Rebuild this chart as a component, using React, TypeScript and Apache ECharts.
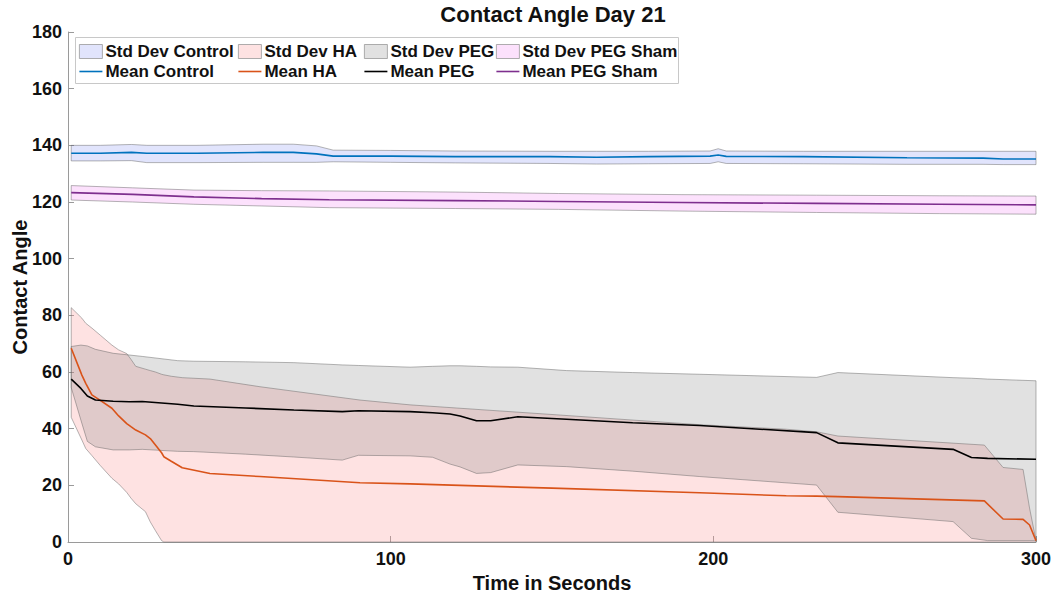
import React, { useEffect, useRef } from "react";
import * as echarts from "echarts";

// ---------- data ----------
const xTicks = [0, 100, 200, 300];
const yTicks = [0, 20, 40, 60, 80, 100, 120, 140, 160, 180];

const tControl = [1, 10, 19.7, 24.4, 40, 60.5, 69.8, 77, 82.2, 100, 120, 149.4, 163.8, 180, 199, 201.5, 204, 228, 260, 283.6, 289.8, 300];
const meanControl = [137.2, 137.2, 137.5, 137.2, 137.2, 137.5, 137.5, 137.0, 136.2, 136.2, 136.0, 136.0, 135.8, 136.0, 136.2, 136.6, 136.1, 136.0, 135.6, 135.5, 135.2, 135.2];
const hiControl = [140.0, 140.0, 140.3, 140.0, 140.0, 140.4, 140.4, 139.8, 138.3, 138.2, 138.0, 137.9, 137.9, 137.9, 138.0, 138.8, 138.0, 137.9, 137.9, 137.9, 137.9, 137.9];
const loControl = [134.5, 134.5, 134.6, 133.9, 133.9, 134.0, 134.0, 134.0, 134.2, 134.0, 133.8, 133.6, 133.4, 133.5, 133.6, 134.2, 133.6, 133.5, 133.3, 133.3, 133.2, 133.2];

const tHA = [1, 4.3, 5.5, 7.4, 10, 13.6, 15.7, 18.2, 19.5, 21, 24, 25.5, 27.1, 29, 29.7, 32, 35.4, 44, 59.5, 90.5, 106, 150, 195.8, 222.6, 232, 238.6, 284, 289.8, 296, 298, 300];
const meanHA = [68.4, 58.9, 56.0, 51.9, 50.0, 47.2, 44.5, 41.8, 40.7, 39.5, 37.8, 36.5, 34.2, 31.5, 30.1, 28.5, 26.2, 24.2, 23.1, 20.9, 20.5, 19.0, 17.4, 16.3, 16.2, 16.0, 14.5, 8.1, 8.0, 6.0, 0.5];
const hiHA = [82.7, 79.0, 77.2, 75.5, 73.0, 69.5, 67.8, 66.5, 64.5, 62.0, 61.0, 60.5, 60.0, 59.2, 59.0, 58.5, 58.0, 57.5, 54.8, 50.1, 48.4, 45.0, 41.4, 39.8, 38.9, 37.4, 34.2, 26.3, 25.6, 12.0, 0.5];
const loHA = [44.0, 36.0, 33.0, 30.5, 27.0, 22.5, 20.5, 17.5, 15.5, 13.5, 10.7, 7.1, 4.0, 0.5, 0, 0, 0, 0, 0, 0, 0, 0, 0, 0, 0, 0, 0, 0, 0, 0, 0];

const tPEG = [1, 4, 6, 8.5, 14, 19, 23, 34, 39, 55, 70, 85, 90, 106, 113, 118.4, 121.5, 126.6, 131, 139.4, 154.5, 175, 195.8, 232, 238.6, 274.3, 280, 285, 300];
const meanPEG = [57.5, 54.2, 51.5, 50.1, 49.7, 49.5, 49.6, 48.6, 48.0, 47.3, 46.6, 46.0, 46.3, 46.0, 45.6, 45.2, 44.5, 42.8, 42.8, 44.2, 43.3, 42.1, 41.1, 38.6, 35.0, 32.7, 29.8, 29.5, 29.2];
const loPEG = [54.5, 43.0, 35.5, 33.6, 32.5, 32.5, 32.7, 32.0, 31.9, 31.0, 30.0, 28.9, 30.6, 30.4, 29.9, 27.5, 26.5, 24.2, 24.5, 27.2, 26.6, 25.0, 23.1, 20.1, 10.5, 7.2, 1.3, 0.5, 0.5];
const hiPEG = [69.0, 69.5, 69.2, 68.0, 66.6, 66.0, 65.5, 64.0, 63.8, 63.6, 63.3, 62.5, 62.3, 61.7, 62.0, 62.2, 62.2, 62.0, 61.8, 61.7, 60.5, 59.8, 59.2, 58.1, 59.8, 58.0, 57.8, 57.5, 56.9];

const tSham = [1, 20, 39, 60, 81, 120, 152, 190, 232, 270, 300];
const meanSham = [123.3, 122.7, 121.8, 121.2, 120.8, 120.5, 120.2, 119.8, 119.5, 119.2, 119.0];
const hiSham = [125.8, 125.0, 124.2, 124.0, 123.9, 123.5, 123.0, 122.6, 122.4, 122.2, 122.1];
const loSham = [120.7, 120.0, 119.2, 118.6, 118.0, 117.7, 117.4, 116.8, 116.3, 115.9, 115.7];

// ---------- styles ----------
const FONT = "'Liberation Sans', Arial, Helvetica, sans-serif";
const EDGE = "rgba(100,100,100,0.6)";
const AXIS = "#9a9a9a";

const fillControl = "rgba(120,130,240,0.22)";
const fillHA = "rgba(250,150,150,0.28)";
const fillPEG = "rgba(120,120,120,0.22)";
const fillSham = "rgba(240,120,240,0.22)";

const colControl = "#0072BD";
const colHA = "#D95319";
const colPEG = "#000000";
const colSham = "#7E2F8E";

const LINE_ICON = "path://M0,0L23,0L23,1.6L0,1.6Z";

function band(name: string, t: number[], lo: number[], hi: number[], fill: string) {
  return {
    type: "custom",
    name,
    coordinateSystem: "cartesian2d",
    silent: true,
    z: 1,
    itemStyle: { color: fill, borderColor: EDGE, borderWidth: 0.8 },
    data: t.map((x, i) => [x, lo[i], hi[i]]),
    encode: { x: 0, y: [1, 2] },
    renderItem: (params: any, api: any) => {
      if (params.dataIndex !== 0) return null;
      const pts: number[][] = [];
      for (let i = 0; i < t.length; i++) pts.push(api.coord([t[i], hi[i]]));
      for (let i = t.length - 1; i >= 0; i--) pts.push(api.coord([t[i], lo[i]]));
      return {
        type: "polygon",
        shape: { points: pts },
        style: { fill, stroke: EDGE, lineWidth: 0.8 },
      };
    },
  };
}

function meanLine(name: string, t: number[], v: number[], color: string) {
  return {
    type: "line",
    name,
    z: 3,
    silent: true,
    symbol: "none",
    showSymbol: false,
    data: t.map((x, i) => [x, v[i]]),
    lineStyle: { color, width: 1.6 },
    itemStyle: { color },
  };
}

function legendCol(left: number, bandName: string, lineName: string, fill: string, color: string) {
  return {
    orient: "vertical",
    left,
    top: 43,
    padding: 0,
    itemWidth: 23,
    itemHeight: 14,
    itemGap: 3,
    selectedMode: false,
    symbolKeepAspect: true,
    textStyle: { fontFamily: FONT, fontSize: 17, fontWeight: "bold", color: "#111", padding: [0, 0, 0, -2] },
    data: [
      { name: bandName, icon: "rect", itemStyle: { color: fill, borderColor: "#999", borderWidth: 0.8 } },
      { name: lineName, icon: LINE_ICON, itemStyle: { color, borderWidth: 0 } },
    ],
  };
}

export default function App() {
  const ref = useRef<HTMLDivElement>(null);
  useEffect(() => {
    if (!ref.current) return;
    const chart = echarts.init(ref.current, undefined, { renderer: "svg" });
    chart.setOption({
      animation: false,
      backgroundColor: "#ffffff",
      grid: { left: 68, right: 25, top: 32, bottom: 65, containLabel: false, outerBoundsMode: "none" },
      graphic: [
        {
          type: "text",
          x: 553,
          y: 14,
          style: {
            text: "Contact Angle Day 21",
            font: `bold 22px ${FONT}`,
            fill: "#111",
            textAlign: "center",
            textVerticalAlign: "middle",
          },
        },
        {
          type: "rect",
          z: 0,
          shape: { x: 75.5, y: 37.5, width: 603, height: 46 },
          style: { fill: "#ffffff", stroke: "#c8c8c8", lineWidth: 1 },
        },
      ],
      legend: [
        legendCol(79, "Std Dev Control", "Mean Control", fillControl, colControl),
        legendCol(238, "Std Dev HA", "Mean HA", fillHA, colHA),
        legendCol(364, "Std Dev PEG", "Mean PEG", fillPEG, colPEG),
        legendCol(496, "Std Dev PEG Sham", "Mean PEG Sham", fillSham, colSham),
      ],
      xAxis: {
        type: "value",
        min: xTicks[0],
        max: xTicks[xTicks.length - 1],
        interval: 100,
        name: "Time in Seconds",
        nameLocation: "middle",
        nameGap: 31,
        nameMoveOverlap: false,
        nameTextStyle: { fontFamily: FONT, fontSize: 20, fontWeight: "bold", color: "#111" },
        axisLine: { show: true, lineStyle: { color: AXIS, width: 1 } },
        axisTick: { show: true, inside: true, length: 6, lineStyle: { color: AXIS } },
        axisLabel: { fontFamily: FONT, fontSize: 18, fontWeight: "bold", color: "#111", margin: 8 },
        splitLine: { show: false },
      },
      yAxis: {
        type: "value",
        min: yTicks[0],
        max: yTicks[yTicks.length - 1],
        interval: 20,
        name: "Contact Angle",
        nameLocation: "middle",
        nameGap: 38,
        nameMoveOverlap: false,
        nameTextStyle: { fontFamily: FONT, fontSize: 20, fontWeight: "bold", color: "#111" },
        axisLine: { show: true, lineStyle: { color: AXIS, width: 1 } },
        axisTick: { show: true, inside: true, length: 6, lineStyle: { color: AXIS } },
        axisLabel: { fontFamily: FONT, fontSize: 18, fontWeight: "bold", color: "#111", margin: 6 },
        splitLine: { show: false },
      },
      series: [
        band("Std Dev Control", tControl, loControl, hiControl, fillControl),
        band("Std Dev HA", tHA, loHA, hiHA, fillHA),
        band("Std Dev PEG", tPEG, loPEG, hiPEG, fillPEG),
        band("Std Dev PEG Sham", tSham, loSham, hiSham, fillSham),
        meanLine("Mean Control", tControl, meanControl, colControl),
        meanLine("Mean HA", tHA, meanHA, colHA),
        meanLine("Mean PEG", tPEG, meanPEG, colPEG),
        meanLine("Mean PEG Sham", tSham, meanSham, colSham),
      ],
    });
    return () => chart.dispose();
  }, []);
  return <div ref={ref} style={{ width: 1061, height: 607, position: "absolute", left: 0, top: 0 }} />;
}
